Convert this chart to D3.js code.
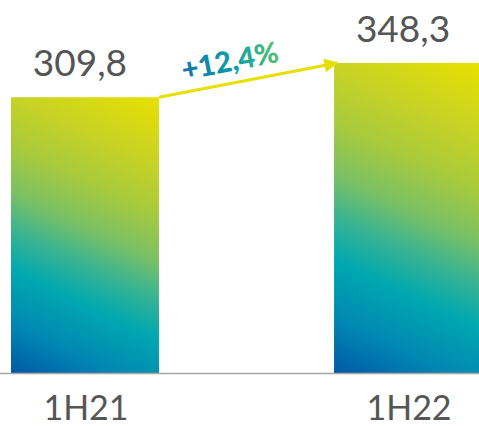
<!DOCTYPE html>
<html>
<head>
<meta charset="utf-8">
<script src="https://cdn.jsdelivr.net/npm/d3@7"></script>
<style>
  html, body { margin: 0; padding: 0; background: #fff; }
  svg { display: block; }
</style>
</head>
<body>
<svg id="chart" width="479" height="426"></svg>
<script>
// ---- data ----
const categories = ["1H21", "1H22"];
const values = [309.8, 348.3];
const valueLabels = ["309,8", "348,3"];
const growthLabel = "+12,4%";

// ---- layout ----
const W = 479, H = 426;
const baseY = 373;
const svg = d3.select("#chart");

const x = d3.scaleBand()
  .domain(categories)
  .range([11, 482])
  .paddingInner(0.542)
  .paddingOuter(0);

const y = d3.scaleLinear()
  .domain([0, 419])
  .range([baseY, 0]);

const defs = svg.append("defs");

// per-bar diagonal gradient
const stops = [
  [0.00, "#0058a6"],
  [0.14, "#0086b2"],
  [0.30, "#00a8b0"],
  [0.42, "#3cb490"],
  [0.52, "#78c066"],
  [0.66, "#a8ca3c"],
  [0.80, "#c6d226"],
  [1.00, "#e8e000"]
];
const dir = [0.425, -0.905];

categories.forEach((c, i) => {
  const x0 = x(c), w = x.bandwidth();
  const y0 = y(values[i]), h = baseY - y0;
  const L = w * dir[0] + h * (-dir[1]);
  const g = defs.append("linearGradient")
    .attr("id", "barGrad" + i)
    .attr("gradientUnits", "userSpaceOnUse")
    .attr("x1", x0).attr("y1", baseY)
    .attr("x2", x0 + dir[0] * L).attr("y2", baseY + dir[1] * L);
  stops.forEach(s => g.append("stop").attr("offset", s[0]).attr("stop-color", s[1]));
});

const tg = defs.append("linearGradient")
  .attr("id", "txtGrad")
  .attr("x1", 0).attr("y1", 0).attr("x2", 1).attr("y2", 0);
tg.append("stop").attr("offset", 0).attr("stop-color", "#1872a8");
tg.append("stop").attr("offset", 0.55).attr("stop-color", "#08a0ac");
tg.append("stop").attr("offset", 1).attr("stop-color", "#5cc070");

defs.append("marker")
  .attr("id", "arrowHead")
  .attr("viewBox", "0 0 10 10")
  .attr("refX", 9).attr("refY", 5)
  .attr("markerUnits", "userSpaceOnUse")
  .attr("markerWidth", 18).attr("markerHeight", 14)
  .attr("orient", "auto")
  .append("path")
  .attr("d", "M0,0 L10,5 L0,10 Z")
  .attr("fill", "#e6e000");

// bars
svg.selectAll("rect.bar")
  .data(values)
  .enter().append("rect")
  .attr("class", "bar")
  .attr("x", (d, i) => x(categories[i]))
  .attr("y", d => y(d))
  .attr("width", x.bandwidth())
  .attr("height", d => baseY - y(d))
  .attr("fill", (d, i) => `url(#barGrad${i})`);

// baseline
svg.append("line")
  .attr("x1", 0).attr("x2", W)
  .attr("y1", baseY + 0.5).attr("y2", baseY + 0.5)
  .attr("stroke", "#a8a8a8")
  .attr("stroke-width", 1.5);

// value labels
svg.selectAll("text.val")
  .data(values)
  .enter().append("text")
  .attr("class", "val")
  .attr("x", (d, i) => x(categories[i]) + x.bandwidth() / 2 - 5)
  .attr("y", d => y(d) - 21)
  .attr("text-anchor", "middle")
  .attr("font-family", "Lato, 'Open Sans', sans-serif")
  .attr("font-size", 37)
  .attr("fill", "#555555")
  .text((d, i) => valueLabels[i]);

// category labels
svg.selectAll("text.cat")
  .data(categories)
  .enter().append("text")
  .attr("class", "cat")
  .attr("x", d => x(d) + x.bandwidth() / 2 + 1)
  .attr("y", 420)
  .attr("text-anchor", "middle")
  .attr("font-family", "Lato, 'Open Sans', sans-serif")
  .attr("font-size", 34)
  .attr("fill", "#555555")
  .text(d => d);

// growth arrow
const ax1 = x(categories[0]) + x.bandwidth();
const ay1 = y(values[0]);
const ax2 = x(categories[1]) + 3;
const ay2 = y(values[1]);
svg.append("line")
  .attr("x1", ax1).attr("y1", ay1)
  .attr("x2", ax2).attr("y2", ay2)
  .attr("stroke", "#e6e000")
  .attr("stroke-width", 3)
  .attr("marker-end", "url(#arrowHead)");

const angle = Math.atan2(ay2 - ay1, ax2 - ax1) * 180 / Math.PI;
const mx = (ax1 + ax2) / 2 - 16, my = (ay1 + ay2) / 2 - 9;
svg.append("text")
  .attr("transform", `translate(${mx},${my}) rotate(${angle})`)
  .attr("text-anchor", "middle")
  .attr("font-family", "Lato, 'Open Sans', sans-serif")
  .attr("font-weight", 900)
  .attr("font-size", 29)
  .attr("fill", "url(#txtGrad)")
  .text(growthLabel);
</script>
</body>
</html>
